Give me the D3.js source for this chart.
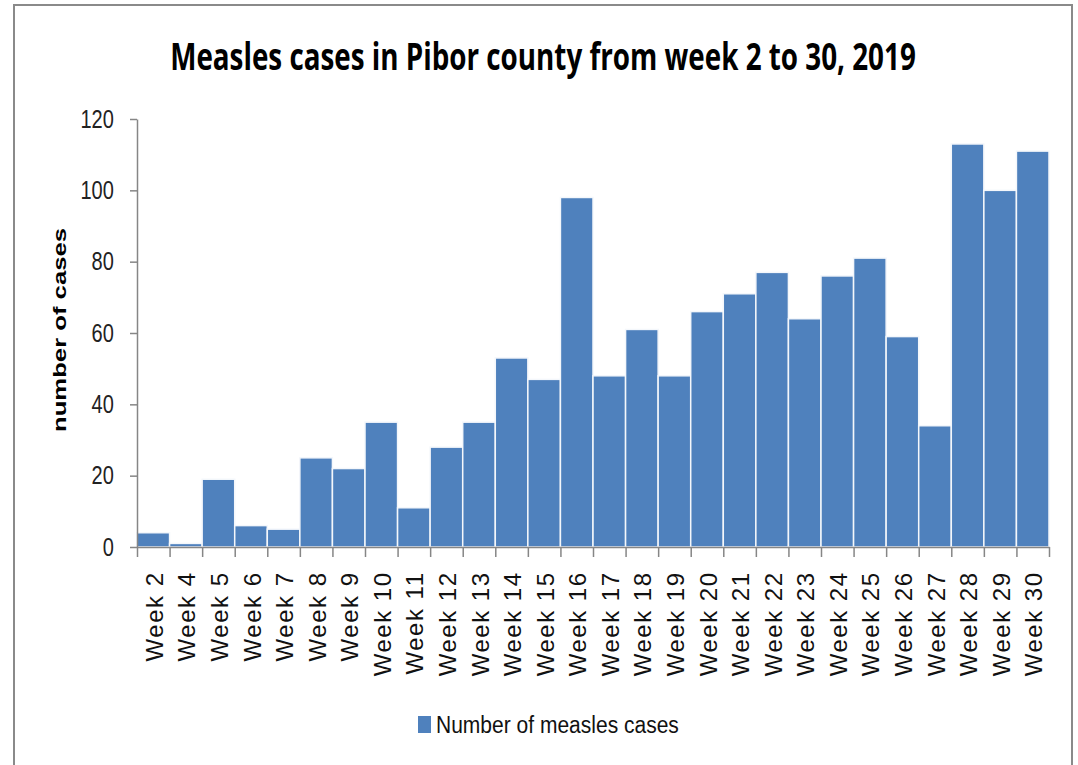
<!DOCTYPE html>
<html>
<head>
<meta charset="utf-8">
<script src="https://cdn.jsdelivr.net/npm/d3@7"></script>
<style>
    body { margin: 0; background: #fff; }
    svg { display: block; }
</style>
</head>
<body>
<svg width="1078" height="765"></svg>
<script>
var weeks = ["Week 2", "Week 4", "Week 5", "Week 6", "Week 7", "Week 8", "Week 9", "Week 10",
    "Week 11", "Week 12", "Week 13", "Week 14", "Week 15", "Week 16", "Week 17", "Week 18",
    "Week 19", "Week 20", "Week 21", "Week 22", "Week 23", "Week 24", "Week 25", "Week 26",
    "Week 27", "Week 28", "Week 29", "Week 30"];
var cases = [4, 1, 19, 6, 5, 25, 22, 35, 11, 28, 35, 53, 47, 98, 48, 61,
    48, 66, 71, 77, 64, 76, 81, 59, 34, 113, 100, 111];
var yTicks = [0, 20, 40, 60, 80, 100, 120];
var TITLE = "Measles cases in Pibor county from week 2 to 30, 2019";
var Y_LABEL = "number of cases";
var SERIES = "Number of measles cases";

var BAR_COLOR = "#4f81bd";
var AXIS_COLOR = "#868686";
var LEFT = 137, RIGHT = 1049, TOP = 119, BOTTOM = 547;

var svg = d3.select("svg");

// squeeze a text horizontally so it spans the given width (condensed look)
function fitWidth(sel, cx, cy, width) {
    var w = sel.node().getComputedTextLength();
    var k = Math.min(1, width / w);
    sel.attr("transform", "translate(" + cx + "," + cy + ") scale(" + k + ",1)");
}

// outer chart frame
svg.append("rect")
    .attr("x", 14).attr("y", 5)
    .attr("width", 1058).attr("height", 790)
    .style("fill", "none")
    .style("stroke", "#8a8a8a")
    .style("stroke-width", 2);

var x = d3.scaleBand().domain(weeks).range([LEFT, RIGHT]).padding(0);
var y = d3.scaleLinear().domain([0, 120]).range([BOTTOM, TOP]);

// bars
svg.append("g").selectAll("rect")
    .data(weeks)
    .enter().append("rect")
    .attr("x", function(d) { return x(d); })
    .attr("y", function(d, i) { return y(cases[i]); })
    .attr("width", x.bandwidth())
    .attr("height", function(d, i) { return BOTTOM - y(cases[i]); })
    .style("fill", BAR_COLOR)
    .style("stroke", "#f4f7fb")
    .style("stroke-width", 1.5);

// y axis
var yAxis = svg.append("g")
    .attr("transform", "translate(" + LEFT + ",0)")
    .call(d3.axisLeft(y).tickValues(yTicks).tickSize(7).tickSizeOuter(0));
yAxis.selectAll("path, line").style("stroke", AXIS_COLOR).style("stroke-width", 1.5);
yAxis.selectAll("text")
    .attr("x", -29)
    .attr("transform", "scale(0.8,1)")
    .style("font-family", "'Liberation Sans', Arial, sans-serif")
    .style("font-size", "25px")
    .style("fill", "#222");

// x axis: ticks sit on category boundaries
var xEdges = d3.scaleLinear().domain([0, weeks.length]).range([LEFT, RIGHT]);
var xAxis = svg.append("g")
    .attr("transform", "translate(0," + BOTTOM + ")")
    .call(d3.axisBottom(xEdges).tickValues(d3.range(weeks.length + 1))
        .tickSize(10).tickSizeOuter(0).tickFormat(""));
xAxis.selectAll("path, line").style("stroke", AXIS_COLOR).style("stroke-width", 1.5);

// rotated week labels
var xLabels = svg.append("g")
    .attr("transform", "translate(0," + BOTTOM + ")")
    .call(d3.axisBottom(x).tickSize(0));
xLabels.select(".domain").remove();
xLabels.selectAll("text")
    .attr("x", 0).attr("y", 0)
    .attr("dy", "0.36em")
    .attr("transform", "translate(1,24.5) rotate(-90)")
    .style("text-anchor", "end")
    .style("font-family", "'Liberation Sans', Arial, sans-serif")
    .style("font-size", "24px")
    .style("letter-spacing", "1.5px")
    .style("fill", "#111");

// title
var title = svg.append("text")
    .style("text-anchor", "middle")
    .style("font-family", "'Open Sans', Arial, sans-serif")
    .style("font-weight", "bold")
    .style("font-size", "38px")
    .style("fill", "#000")
    .text(TITLE);
fitWidth(title, 543, 70, 746);

// y axis title
svg.append("text")
    .attr("transform", "translate(66,330) rotate(-90)")
    .attr("x", -102)
    .attr("textLength", 204)
    .attr("lengthAdjust", "spacingAndGlyphs")
    .style("font-family", "'Liberation Sans', Arial, sans-serif")
    .style("font-weight", "bold")
    .style("font-size", "19px")
    .style("fill", "#000")
    .text(Y_LABEL);

// legend
svg.append("rect")
    .attr("x", 418).attr("y", 716)
    .attr("width", 13).attr("height", 17)
    .style("fill", BAR_COLOR);
var legendText = svg.append("text")
    .style("font-family", "'Liberation Sans', Arial, sans-serif")
    .style("font-size", "24px")
    .style("fill", "#111")
    .text(SERIES);
fitWidth(legendText, 436, 733, 243);
</script>
</body>
</html>
